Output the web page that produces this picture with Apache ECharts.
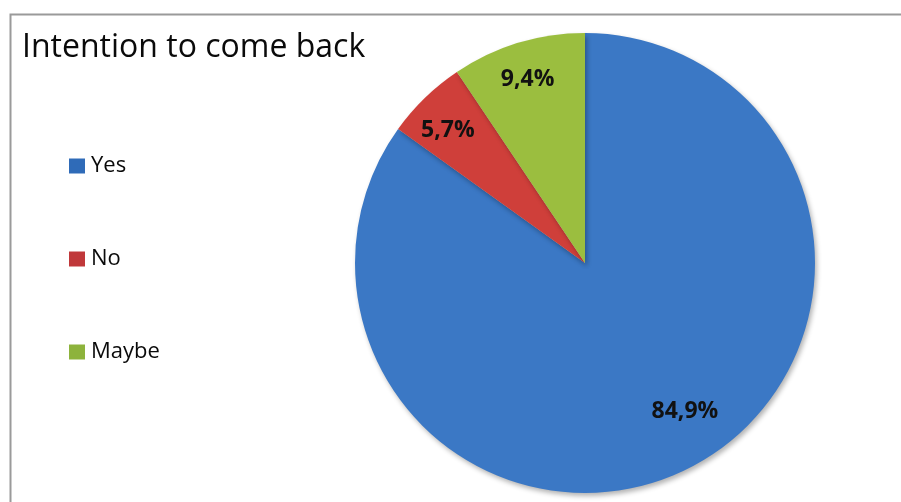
<!DOCTYPE html>
<html>
<head>
<meta charset="utf-8">
<script src="https://cdn.jsdelivr.net/npm/echarts@6/dist/echarts.min.js"></script>
<style>html,body{margin:0;padding:0;background:#fff}#c{width:901px;height:502px}</style>
</head>
<body>
<div id="c"></div>
<script>
const categories = ['Yes', 'No', 'Maybe'];
const values = [84.9, 5.7, 9.4];
const labels = ['84,9%', '5,7%', '9,4%'];
const colors = ['#3B78C5', '#CF3F3A', '#9BBE3F'];
const legendColors = ['#2F6BB8', '#C0383A', '#8DB33C'];

const labelOffsets = [[46, 43], [-55, -48], [-23, -71]];

const chart = echarts.init(document.getElementById('c'), null, {renderer: 'canvas'});
chart.setOption({
  animation: false,
  backgroundColor: '#fff',
  title: {
    text: 'Intention to come back',
    left: 17, top: 27,
    textStyle: {fontFamily: 'Open Sans', fontSize: 32, fontWeight: 'normal', color: '#0a0a0a'}
  },
  graphic: [{
    type: 'rect', left: 8, top: 12,
    shape: {width: 1000, height: 600},
    style: {fill: 'none', stroke: '#9a9a9a', lineWidth: 2}, silent: true
  }],
  legend: {
    orient: 'vertical', left: 69, top: 155, padding: 0,
    itemWidth: 16, itemHeight: 15, itemGap: 71,
    icon: 'rect',
    textStyle: {fontFamily: 'Open Sans', fontSize: 22, color: '#0a0a0a', padding: [0, 0, 0, 1]},
    data: categories.map((c, i) => ({name: c, itemStyle: {color: legendColors[i]}}))
  },
  series: [{
    type: 'pie',
    center: [585, 263], radius: 230,
    startAngle: 90, clockwise: true,
    avoidLabelOverlap: false,
    itemStyle: {borderWidth: 0, shadowBlur: 5, shadowColor: 'rgba(0,0,0,0.3)', shadowOffsetX: 2, shadowOffsetY: 3},
    label: {
      show: true, position: 'inside',
      fontFamily: 'Open Sans', fontSize: 23, fontWeight: 'bold', color: '#111'
    },
    labelLine: {show: false},
    emphasis: {disabled: true},
    data: categories.map((c, i) => ({
      name: c, value: values[i],
      itemStyle: {color: colors[i]},
      label: {formatter: labels[i], offset: labelOffsets[i]}
    }))
  }]
});
</script>
</body>
</html>
